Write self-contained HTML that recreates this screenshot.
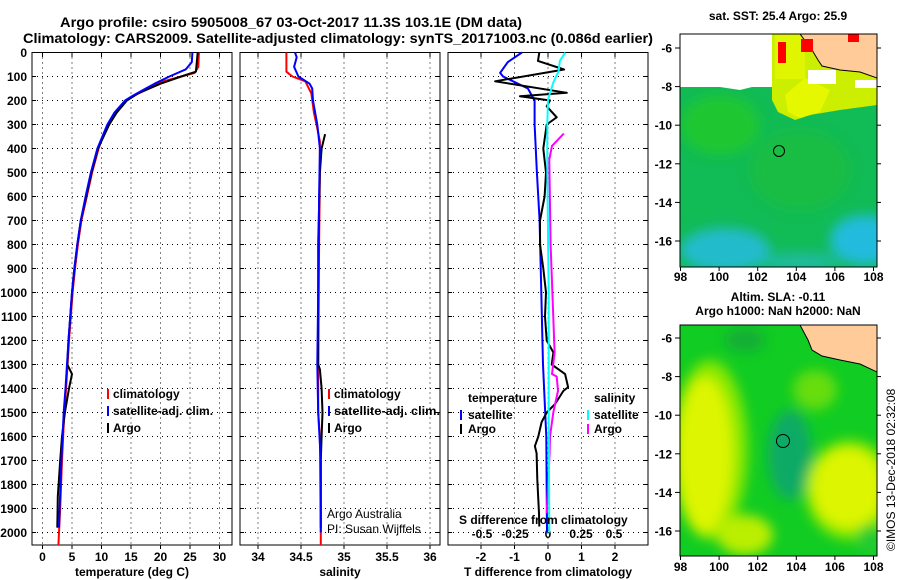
<!DOCTYPE html>
<html><head><meta charset="utf-8"><style>
html,body{margin:0;padding:0;background:#fff}
svg{display:block;font-family:"Liberation Sans",sans-serif}
.b{font-weight:bold;font-size:12px}
</style></head><body>
<svg id="fig" width="900" height="580" viewBox="0 0 900 580" xmlns="http://www.w3.org/2000/svg">
<defs>
<filter id="blur6" x="-20%" y="-20%" width="140%" height="140%"><feGaussianBlur stdDeviation="6"/></filter>
<filter id="blur3"><feGaussianBlur stdDeviation="2"/></filter>
<clipPath id="clipTop"><rect x="680" y="34" width="197" height="233"/></clipPath>
<clipPath id="clipBot"><rect x="680" y="325" width="197" height="231"/></clipPath>
</defs>
<text x="60" y="27" font-size="14" font-weight="bold" textLength="462" lengthAdjust="spacingAndGlyphs">Argo profile: csiro 5905008_67 03-Oct-2017 11.3S 103.1E (DM data)</text>
<text x="23" y="43" font-size="14" font-weight="bold" textLength="630" lengthAdjust="spacingAndGlyphs">Climatology: CARS2009. Satellite-adjusted climatology: synTS_20171003.nc (0.086d earlier)</text>

<g id="panels"></g>

<!-- legends panel 1 -->
<g class="b">
<rect x="107" y="389" width="2" height="10" fill="#f00"/><text x="113" y="398">climatology</text>
<rect x="107" y="406" width="2" height="10" fill="#00f"/><text x="113" y="415">satellite-adj. clim.</text>
<rect x="107" y="423" width="2" height="10" fill="#000"/><text x="113" y="432">Argo</text>
</g>
<g class="b">
<rect x="328" y="389" width="2" height="10" fill="#f00"/><text x="334" y="398">climatology</text>
<rect x="328" y="406" width="2" height="10" fill="#00f"/><text x="334" y="415" textLength="106" lengthAdjust="spacingAndGlyphs">satellite-adj. clim.</text>
<rect x="328" y="423" width="2" height="10" fill="#000"/><text x="334" y="432">Argo</text>
</g>
<g class="b">
<text x="468" y="402">temperature</text>
<rect x="460" y="410" width="2" height="10" fill="#00f"/><text x="468" y="419">satellite</text>
<rect x="460" y="424" width="2" height="10" fill="#000"/><text x="468" y="433">Argo</text>
<text x="594" y="402">salinity</text>
<rect x="587" y="410" width="2" height="10" fill="#0ff"/><text x="594" y="419">satellite</text>
<rect x="587" y="424" width="2" height="10" fill="#f0f"/><text x="594" y="433">Argo</text>
<text x="459" y="524">S difference from climatology</text>
</g>
<text x="327" y="518" font-size="12">Argo Australia</text>
<text x="327" y="533" font-size="12">PI: Susan Wijffels</text>

<!-- top map -->
<text x="778" y="20" text-anchor="middle" class="b">sat. SST: 25.4 Argo: 25.9</text>
<g clip-path="url(#clipTop)">
<rect x="680" y="34" width="197" height="233" fill="#fff"/>
<rect x="680" y="87" width="197" height="180" fill="#11bb55"/>
<rect x="694" y="79" width="12" height="10" fill="#11c044"/>
<g filter="url(#blur6)">
<ellipse cx="720" cy="125" rx="40" ry="30" fill="#22cc22" opacity="0.7"/>
<ellipse cx="800" cy="170" rx="50" ry="40" fill="#22c030" opacity="0.5"/>
<ellipse cx="725" cy="250" rx="45" ry="22" fill="#22bbcc"/>
<ellipse cx="865" cy="240" rx="35" ry="25" fill="#22bbdd"/>
<ellipse cx="800" cy="262" rx="40" ry="10" fill="#22bbbb" opacity="0.7"/>
</g>
<path d="M772 80 L772 34 L877 34 L877 105 L840 110 L810 115 L795 120 L778 112 L772 100Z" fill="#ccee00"/>
<path d="M785 95 L805 78 L830 90 L820 112 L800 118 L788 112Z" fill="#e6f800"/>
<rect x="775" y="34" width="30" height="45" fill="#e0f500"/>
<path d="M680 34 L680 87 L720 87 L740 90 L760 85 L772 78 L772 34Z" fill="#fff"/>
<rect x="808" y="70" width="28" height="14" fill="#fff"/>
<rect x="855" y="80" width="22" height="8" fill="#fff"/>
<path d="M800 34 L812 50 L818 60 L822 66 L840 70 L860 72 L877 78 L877 34Z" fill="#ffcc99" stroke="#000" stroke-width="1"/>
<rect x="778" y="42" width="8" height="21" fill="#f00"/>
<rect x="801" y="39" width="12" height="13" fill="#f00"/>
<rect x="848" y="34" width="11" height="8" fill="#f00"/>
<circle cx="779" cy="151" r="5.5" fill="none" stroke="#000" stroke-width="1"/>
</g>
<rect x="680" y="34" width="197" height="233" fill="none" stroke="#000" stroke-width="1"/>

<!-- bottom map -->
<text x="778" y="301" text-anchor="middle" class="b">Altim. SLA: -0.11</text>
<text x="778" y="315" text-anchor="middle" class="b">Argo h1000: NaN h2000: NaN</text>
<g clip-path="url(#clipBot)">
<rect x="680" y="325" width="197" height="231" fill="#11cc22"/>
<g filter="url(#blur6)">
<ellipse cx="790" cy="455" rx="22" ry="45" fill="#11aa66"/>
<ellipse cx="745" cy="340" rx="20" ry="12" fill="#119944" opacity="0.6"/>
<ellipse cx="710" cy="450" rx="38" ry="90" fill="#88e800"/>
<ellipse cx="705" cy="455" rx="28" ry="78" fill="#ddf500"/>
<ellipse cx="745" cy="535" rx="28" ry="20" fill="#bbee00"/>
<ellipse cx="850" cy="490" rx="45" ry="50" fill="#88e800"/>
<ellipse cx="848" cy="488" rx="36" ry="40" fill="#ddf500"/>
<ellipse cx="815" cy="390" rx="22" ry="20" fill="#66dd11"/>
<ellipse cx="870" cy="540" rx="12" ry="15" fill="#22cc33"/>
</g>
<path d="M800 325 L808 340 L812 350 L822 356 L840 360 L860 364 L877 372 L877 325Z" fill="#ffcc99" stroke="#000" stroke-width="1"/>
<circle cx="783" cy="441" r="6.5" fill="none" stroke="#000" stroke-width="1"/>
</g>
<rect x="680" y="325" width="197" height="231" fill="none" stroke="#000" stroke-width="1"/>
<g id="mapAxes"></g>
<text transform="translate(895,551) rotate(-90)" font-size="12">©IMOS 13-Dec-2018 02:32:08</text>
</svg>
<script>
// ---- data ----
const tempClimDepth = [0,60,85,100,120,150,180,200,250,300,350,400,500,600,700,800,900,1000,1200,1400,1500,1700,1900,2000,2055];
const tempClimValue = [26.5,26.4,25.8,23.5,20.5,18,15.5,14.2,12.5,11.3,10.2,9.5,8.4,7.5,6.6,6,5.5,5.1,4.5,4,3.7,3.3,3,2.8,2.7];
const tempSatDepth = [0,40,70,100,130,150,180,200,250,300,400,500,600,700,800,900,1000,1200,1400,1500,1700,1900,1980];
const tempSatValue = [25.4,25.3,24.3,21.5,19,17.5,15.3,14,12.2,11,9.3,8.2,7.3,6.5,5.9,5.4,5,4.4,3.9,3.6,3.2,2.9,2.8];
const tempArgoDepth = [0,80,100,130,170,180,200,250,300,400,500,600,700,800,900,1000,1200,1300,1340,1400,1500,1600,1700,1850,1980];
const tempArgoValue = [26.3,26,23.5,20,16.2,15.6,14.3,12.6,11.3,9.4,8.3,7.4,6.5,5.9,5.4,5,4.4,4.2,5,4.5,3.8,3.3,3,2.6,2.5];

const salClimDepth = [0,80,100,120,170,250,300,370,500,800,1300,1500,1600,2000,2055];
const salClimValue = [34.33,34.33,34.4,34.55,34.62,34.65,34.68,34.72,34.72,34.71,34.7,34.7,34.72,34.73,34.73];
const salSatDepth = [0,20,60,100,130,150,200,300,400,600,1000,1300,1500,1700,2000];
const salSatValue = [34.43,34.45,34.42,34.47,34.6,34.63,34.64,34.69,34.72,34.71,34.7,34.69,34.7,34.73,34.73];
const salArgoDepth = [340,400,500,800,1000,1300,1320,1400,1500,1600,1700,1980];
const salArgoValue = [34.78,34.74,34.72,34.7,34.7,34.7,34.72,34.74,34.75,34.74,34.73,34.73];

const dTSatDepth = [0,40,85,100,130,150,200,300,500,700,1000,1300,1600,2000];
const dTSatValue = [-0.78,-1.2,-1.43,-1.34,-0.9,-0.6,-0.4,-0.4,-0.33,-0.25,-0.2,-0.15,-0.05,-0.03];
const dTArgoDepth = [0,35,71,120,168,182,200,224,270,300,400,500,600,700,800,900,1000,1100,1200,1250,1300,1340,1394,1410,1465,1500,1540,1600,1640,1670,1780,1920,1975];
const dTArgoValue = [-0.26,-0.3,0.48,-1.58,0.56,-0.84,0.06,-0.04,0.26,-0.04,-0.14,-0.06,-0.1,-0.24,-0.24,-0.14,-0.06,-0.09,-0.04,0.16,0.11,0.51,0.6,0.46,0.21,-0.04,-0.19,-0.29,-0.39,-0.34,-0.32,-0.27,-0.26];
const dSSatDepth = [0,35,78,125,196,300,500,1000,1500,2000];
const dSSatValue = [0.13,0.09,0.08,0.04,0.0,-0.005,-0.005,0.005,0.005,0.01];
const dSArgoDepth = [338,389,446,800,1250,1340,1350,1410,1500,1600,1670,1920];
const dSArgoValue = [0.12,0.03,0.01,0.02,0.05,0.03,0.066,0.076,0.04,0.015,0.012,-0.01];

const depthTicks = [0,100,200,300,400,500,600,700,800,900,1000,1100,1200,1300,1400,1500,1600,1700,1800,1900,2000];
const tempTicks = [0,5,10,15,20,25,30];
const salTicks = [34,34.5,35,35.5,36];
const dTTicks = [-2,-1,0,1,2];
const dSTicks = [-0.5,-0.25,0,0.25,0.5];
const dSTickLabels = ['-0.5','-0.25','0','0.25','0.5'];
const latTicks = [-6,-8,-10,-12,-14,-16];
const lonTicks = [98,100,102,104,106,108];

// ---- scales ----
const yD = d => 52.5 + 0.24*d;
const xT = t => 42.5 + 5.9*t;
const xS = s => 258 + 86*(s-34);
const xDT = t => 548 + 33.5*t;
const xDS = s => 548 + 132*s;
const latTop = l => 48 + (-6-l)*19.3;
const latBot = l => 338 + (-6-l)*19.3;
const lonX = l => 680.5 + (l-98)*19.3;

const NS='http://www.w3.org/2000/svg';
const root=document.getElementById('panels');
function mk(tag,attrs,parent){const e=document.createElementNS(NS,tag);for(const k in attrs)e.setAttribute(k,attrs[k]);(parent||root).appendChild(e);return e;}

const panels=[
 {x0:32,x1:232,ticks:tempTicks,labels:tempTicks.map(String),sx:xT,title:'temperature (deg C)',name:'temperature-panel'},
 {x0:240,x1:440,ticks:salTicks,labels:salTicks.map(String),sx:xS,title:'salinity',name:'salinity-panel'},
 {x0:448,x1:648,ticks:dTTicks,labels:dTTicks.map(String),sx:xDT,title:'T difference from climatology',name:'difference-panel'}
];
panels.forEach((p,i)=>{
 const g=mk('g',{});
 
 
 depthTicks.forEach(d=>{
  const l=mk('line',{x1:p.x0,x2:p.x1,y1:yD(d),y2:yD(d),stroke:'#000','stroke-dasharray':'1,4','stroke-width':1},g);
  
  
  mk('line',{x1:p.x0,x2:p.x0+4,y1:yD(d),y2:yD(d),stroke:'#000'},g);
  mk('line',{x1:p.x1,x2:p.x1-4,y1:yD(d),y2:yD(d),stroke:'#000'},g);
 });
 p.ticks.forEach((t,j)=>{
  const x=p.sx(t);
  const l=mk('line',{x1:x,x2:x,y1:52.5,y2:545,stroke:'#000','stroke-dasharray':'1,4'},g);
  
  
  mk('line',{x1:x,x2:x,y1:545,y2:549,stroke:'#000'},g);
  mk('line',{x1:x,x2:x,y1:52.5,y2:57,stroke:'#000'},g);
  const tx=mk('text',{x:x,y:561,'text-anchor':'middle',class:'b'},g);
  tx.textContent=p.labels[j];
  
  
 });
 mk('rect',{x:p.x0,y:52.5,width:p.x1-p.x0,height:492.5,fill:'none',stroke:'#000','stroke-width':1},g);
 const at=mk('text',{x:(p.x0+p.x1)/2,y:576,'text-anchor':'middle',class:'b'},g);
 at.textContent=p.title;
 
 
});
depthTicks.forEach(d=>{
 const t=mk('text',{x:27,y:yD(d)+4.5,'text-anchor':'end',class:'b'});
 t.textContent=String(d);
 
 
});
dSTicks.forEach((s,j)=>{
 const t=mk('text',{x:xDS(s),y:538,'text-anchor':'middle',class:'b'});
 t.textContent=dSTickLabels[j];
 
 
});
function line(depths,vals,sx,color,name){
 const pts=depths.map((d,i)=>sx(vals[i]).toFixed(1)+','+yD(d).toFixed(1)).join(' ');
 const pl=mk('polyline',{points:pts,fill:'none',stroke:color,'stroke-width':2,'stroke-linejoin':'round'});
 
 
}
line(tempClimDepth,tempClimValue,xT,'#f00','temperature-climatology-line');
line(tempArgoDepth,tempArgoValue,xT,'#000','temperature-argo-line');
line(tempSatDepth,tempSatValue,xT,'#00f','temperature-satellite-line');
line(salClimDepth,salClimValue,xS,'#f00','salinity-climatology-line');
line(salArgoDepth,salArgoValue,xS,'#000','salinity-argo-line');
line(salSatDepth,salSatValue,xS,'#00f','salinity-satellite-line');
line(dTSatDepth,dTSatValue,xDT,'#00f','t-diff-satellite-line');
line(dTArgoDepth,dTArgoValue,xDT,'#000','t-diff-argo-line');
line(dSArgoDepth,dSArgoValue,xDS,'#f0f','s-diff-argo-line');
line(dSSatDepth,dSSatValue,xDS,'#0ff','s-diff-satellite-line');

const ma=document.getElementById('mapAxes');
[[latTop,267,281],[latBot,556,571]].forEach(([ly,by,lby],k)=>{
 latTicks.forEach(l=>{
  const y=ly(l);
  mk('line',{x1:675,x2:680,y1:y,y2:y,stroke:'#000'},ma);
  mk('line',{x1:877,x2:881,y1:y,y2:y,stroke:'#000'},ma);
  const t=mk('text',{x:672,y:y+4.5,'text-anchor':'end',class:'b'},ma);
  t.textContent=String(l);
  
  
 });
 lonTicks.forEach(l=>{
  const x=lonX(l);
  mk('line',{x1:x,x2:x,y1:by,y2:by+4,stroke:'#000'},ma);
  const t=mk('text',{x:x,y:lby,'text-anchor':'middle',class:'b'},ma);
  t.textContent=String(l);
  
  
 });
});
</script>
</body></html>
